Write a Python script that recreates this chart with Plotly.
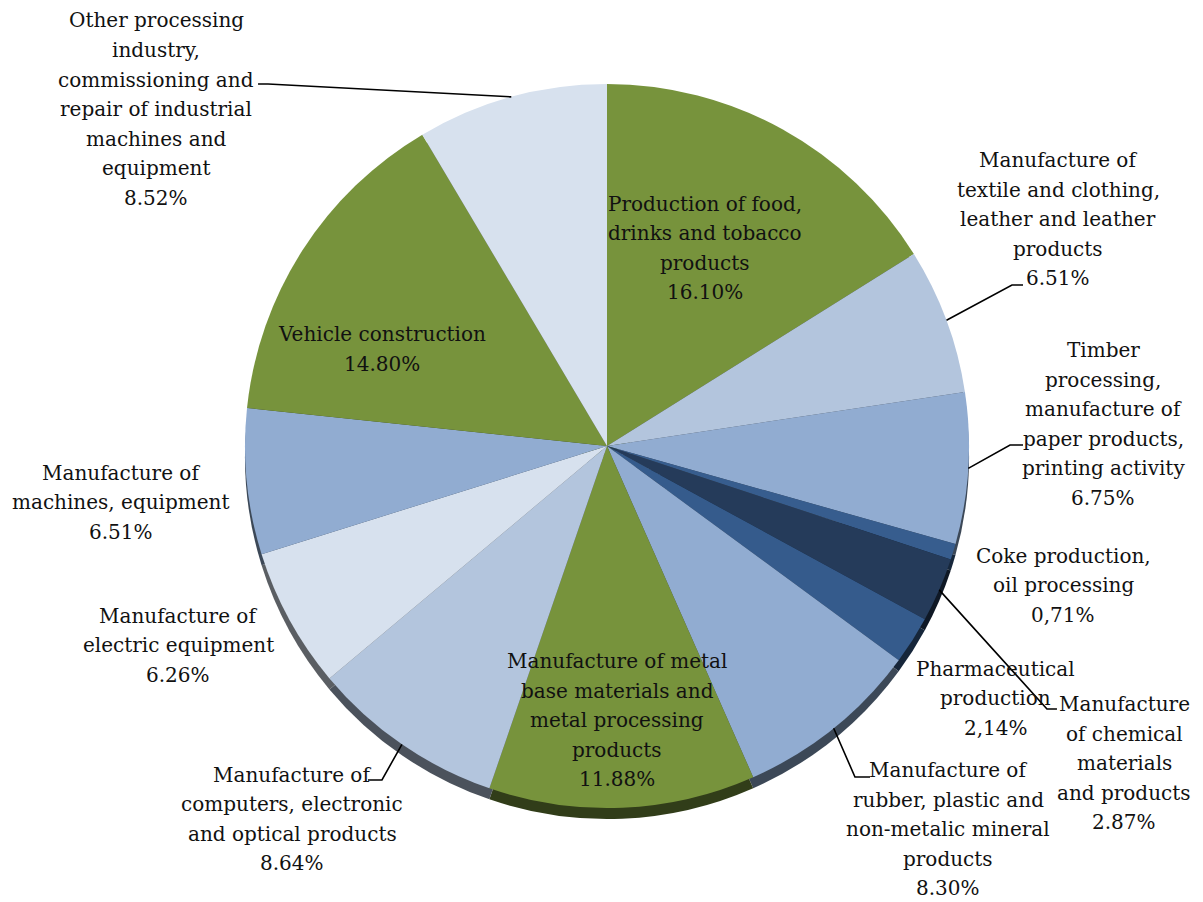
import math
import plotly.graph_objects as go

# ---------------- data ----------------
categories = [
    "Production of food, drinks and tobacco products",
    "Manufacture of textile and clothing, leather and leather products",
    "Timber processing, manufacture of paper products, printing activity",
    "Coke production, oil processing",
    "Manufacture of chemical materials and products",
    "Pharmaceutical production",
    "Manufacture of rubber, plastic and non-metalic mineral products",
    "Manufacture of metal base materials and metal processing products",
    "Manufacture of computers, electronic and optical products",
    "Manufacture of electric equipment",
    "Manufacture of machines, equipment",
    "Vehicle construction",
    "Other processing industry, commissioning and repair of industrial machines and equipment",
]
values = [16.10, 6.51, 6.75, 0.71, 2.87, 2.14, 8.30, 11.88, 8.64, 6.26, 6.51, 14.80, 8.52]
pct_text = ["16.10%", "6.51%", "6.75%", "0,71%", "2.87%", "2,14%", "8.30%",
            "11.88%", "8.64%", "6.26%", "6.51%", "14.80%", "8.52%"]
label_lines = [
    "Production of food,<br>drinks and tobacco<br>products",
    "Manufacture of<br>textile and clothing,<br>leather and leather<br>products",
    "Timber<br>processing,<br>manufacture of<br>paper products,<br>printing activity",
    "Coke production,<br>oil processing",
    "Manufacture<br>of chemical<br>materials<br>and products",
    "Pharmaceutical<br>production",
    "Manufacture of<br>rubber, plastic and<br>non-metalic mineral<br>products",
    "Manufacture of metal<br>base materials and<br>metal processing<br>products",
    "Manufacture of<br>computers, electronic<br>and optical products",
    "Manufacture of<br>electric equipment",
    "Manufacture of<br>machines, equipment",
    "Vehicle construction",
    "Other processing<br>industry,<br>commissioning and<br>repair of industrial<br>machines and<br>equipment",
]

# ---------------- styles / layout ----------------
W, H = 1203, 902
CX, CY, R = 607, 446, 362
DEPTH = 11
FONT = "DejaVu Serif"
FS = 20
LINE = 29.5  # line spacing in pixels

GREEN = "#77933C"
LBLUE = "#B3C5DD"
MBLUE = "#91ACD1"
VLIGHT = "#D7E1EE"
slice_colors = [GREEN, LBLUE, MBLUE, "#375D8E", "#253B5A", "#355B8C", MBLUE,
                GREEN, LBLUE, VLIGHT, MBLUE, GREEN, VLIGHT]


def darken(hexc, f=0.42):
    h = hexc.lstrip("#")
    r, g, b = (int(h[i:i + 2], 16) for i in (0, 2, 4))
    return "#%02X%02X%02X" % (int(r * f), int(g * f), int(b * f))


side_colors = [darken(c) for c in slice_colors]

# label centres (pixels)
label_pos = [
    (705, 248), (1058, 219), (1103, 424), (1063, 585), (1124, 763),
    (996, 698), (948, 829), (617, 720), (292, 819), (178, 645),
    (121, 502), (382, 349), (156, 109),
]
# leader lines: slice index -> label-side points (pixels)
leaders = {
    12: [(258, 84), (268, 84)],
    1: [(1023, 285), (1012, 285)],
    2: [(1023, 445), (1010, 445)],
    4: [(1057, 709), (1047, 709)],
    6: [(870, 777), (855, 777)],
    8: [(368, 780), (382, 780)],
}


def px(x, y):
    return x / W, 1 - y / H


def domain(cy):
    return dict(x=[(CX - R) / W, (CX + R) / W], y=[1 - (cy + R) / H, 1 - (cy - R) / H])


fig = go.Figure()
# 3-D side (drawn first, offset downward)
fig.add_trace(go.Pie(
    labels=categories, values=values, sort=False, direction="clockwise", rotation=0,
    marker=dict(colors=side_colors, line=dict(width=0)),
    textinfo="none", hoverinfo="skip", showlegend=False, domain=domain(CY + DEPTH),
))
# top face
fig.add_trace(go.Pie(
    labels=categories, values=values, sort=False, direction="clockwise", rotation=0,
    marker=dict(colors=slice_colors, line=dict(width=0)),
    textinfo="none", showlegend=False, domain=domain(CY),
))

annotations = []
for i, (txt, pct) in enumerate(zip(label_lines, pct_text)):
    lines = txt.split("<br>") + [pct]
    n = len(lines)
    lx, ly = label_pos[i]
    for j, ln in enumerate(lines):
        x, y = px(lx, ly + (j - (n - 1) / 2) * LINE)
        annotations.append(dict(
            x=x, y=y, xref="paper", yref="paper", xanchor="center", yanchor="middle",
            text=ln, showarrow=False, align="center",
            font=dict(family=FONT, size=FS, color="#111111"),
        ))

total = sum(values)
cum = 0.0
mids = []
for v in values:
    mids.append((cum + v / 2) / total * 2 * math.pi)
    cum += v

shapes = []
for i, pts in leaders.items():
    th = mids[i]
    ex, ey = CX + R * math.sin(th), CY - R * math.cos(th)
    allp = pts + [(ex, ey)]
    path = "M " + " L ".join("%.4f,%.4f" % px(a, b) for a, b in allp)
    shapes.append(dict(type="path", path=path, xref="paper", yref="paper",
                       line=dict(color="#000000", width=1.6)))

fig.update_layout(
    width=W, height=H, margin=dict(l=0, r=0, t=0, b=0),
    paper_bgcolor="white", plot_bgcolor="white",
    font=dict(family=FONT),
    annotations=annotations, shapes=shapes,
)
fig.write_html("out.html")
